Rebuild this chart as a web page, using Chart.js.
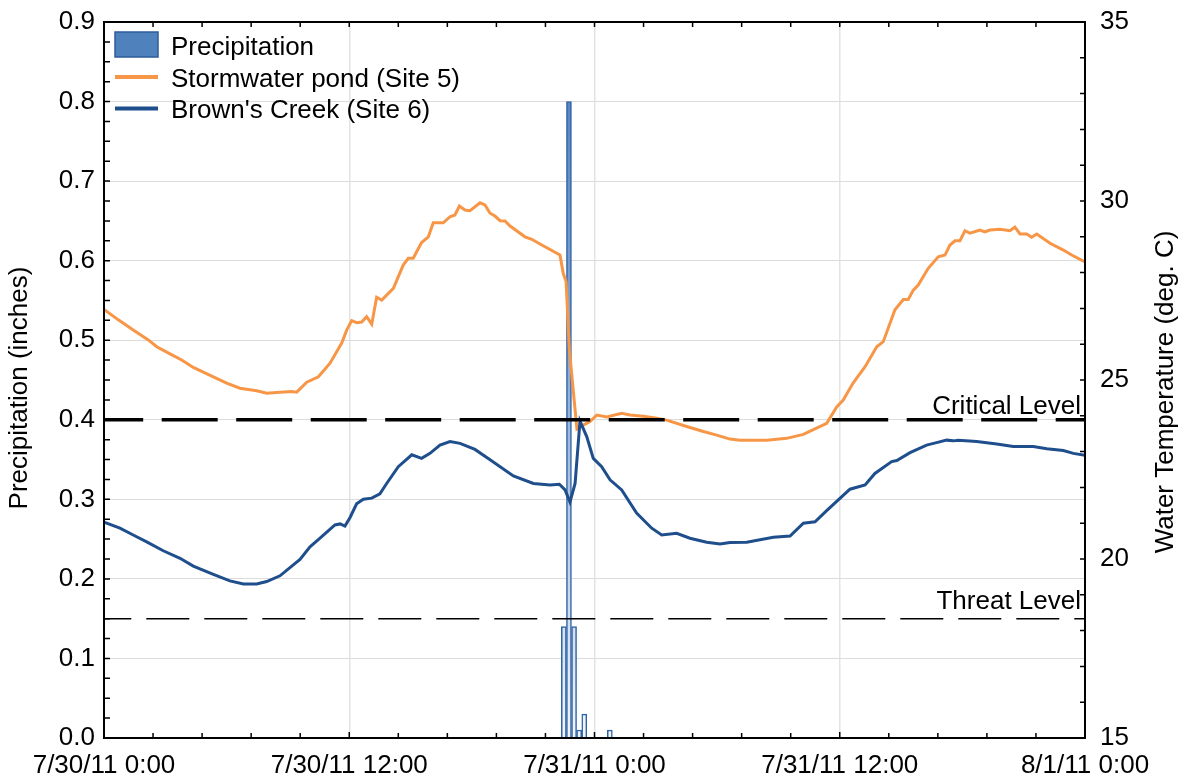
<!DOCTYPE html>
<html><head><meta charset="utf-8">
<script src="https://cdn.jsdelivr.net/npm/chart.js@4.4.0/dist/chart.umd.min.js"></script>
<style>html,body{margin:0;padding:0;background:#fff;}#wrap{width:1183px;height:782px;}</style>
</head><body><div id="wrap"><canvas id="c" width="1183" height="782"></canvas></div>
<script>
// ---------- data ----------
const xTickLabels = ['7/30/11 0:00','7/30/11 12:00','7/31/11 0:00','7/31/11 12:00','8/1/11 0:00']; // every 12 h
const seriesNames = ['Precipitation','Stormwater pond (Site 5)',"Brown's Creek (Site 6)"];
const precipHours = [22.5, 22.75, 23.0, 23.25, 23.5, 24.75];
const precipInches = [0.14, 0.80, 0.14, 0.01, 0.03, 0.01];
const pondHours = [0,0.7,1.43,2.17,2.58,3.23,3.8,4.37,5.35,6.0,6.65,7.47,7.96,8.61,9.18,9.43,9.92,10.49,11.06,11.63,11.88,12.12,12.36,12.61,12.85,13.1,13.34,13.59,14.16,14.64,14.89,15.13,15.54,15.87,16.11,16.6,16.93,17.17,17.39,17.66,17.91,18.4,18.64,18.89,19.13,19.38,19.62,19.87,20.6,20.93,21.42,22.31,22.47,22.61,22.77,22.96,23.14,23.45,23.78,24.11,24.6,25.33,25.74,26.39,27.04,27.53,28.51,29.33,29.98,30.63,31.12,32.43,33.4,34.22,35.36,35.85,36.17,36.66,37.24,37.81,38.13,38.7,39.11,39.35,39.6,39.84,40.33,40.82,41.15,41.39,41.64,41.88,42.13,42.37,42.86,43.1,43.35,43.84,44.33,44.57,44.82,45.15,45.39,45.64,46.29,46.94,47.35,48];
const pondTemp = [26.97,26.68,26.40,26.12,25.93,25.73,25.56,25.35,25.09,24.91,24.77,24.70,24.63,24.66,24.68,24.66,24.94,25.09,25.47,26.03,26.40,26.66,26.60,26.62,26.77,26.56,27.31,27.23,27.56,28.21,28.40,28.40,28.84,29.00,29.39,29.39,29.56,29.61,29.86,29.75,29.73,29.95,29.89,29.66,29.58,29.45,29.44,29.30,29.00,28.93,28.77,28.49,27.98,27.75,25.84,24.72,23.63,23.74,23.84,24.02,23.97,24.07,24.02,23.99,23.93,23.88,23.70,23.56,23.46,23.35,23.32,23.32,23.37,23.48,23.79,24.25,24.44,24.92,25.37,25.93,26.07,26.96,27.25,27.25,27.51,27.65,28.12,28.44,28.49,28.77,28.89,28.89,29.17,29.10,29.19,29.14,29.19,29.21,29.17,29.27,29.08,29.08,28.99,29.08,28.82,28.63,28.49,28.30];
const creekHours = [0,0.78,1.43,2.09,2.9,3.72,4.37,5.35,6.16,6.82,7.47,7.96,8.61,9.59,10.08,10.57,11.3,11.55,11.79,12.04,12.36,12.69,13.1,13.5,13.83,14.4,15.06,15.54,15.95,16.44,16.93,17.42,18.15,18.89,20.03,21.01,21.82,22.28,22.56,22.8,23.05,23.29,23.62,23.94,24.35,24.76,25.33,26.06,26.8,27.29,28.02,28.67,29.49,30.14,30.63,31.45,32.75,33.57,34.22,34.79,35.36,36.5,37.24,37.72,38.54,38.79,39.44,40.25,40.74,41.23,41.56,41.8,42.7,43.68,44.49,45.47,46.13,46.94,47.43,48];
const creekTemp = [21.03,20.86,20.67,20.48,20.23,20.02,19.80,19.57,19.39,19.30,19.30,19.37,19.53,19.99,20.34,20.58,20.95,20.98,20.92,21.16,21.54,21.67,21.70,21.82,22.11,22.58,22.91,22.81,22.95,23.18,23.28,23.23,23.06,22.77,22.32,22.11,22.07,22.09,21.93,21.59,22.11,23.85,23.42,22.81,22.58,22.21,21.93,21.28,20.86,20.67,20.72,20.58,20.47,20.42,20.46,20.47,20.61,20.64,21.00,21.04,21.35,21.95,22.07,22.39,22.72,22.75,22.97,23.18,23.25,23.32,23.30,23.32,23.28,23.21,23.14,23.14,23.08,23.03,22.95,22.90];
const levelNames = ['Critical Level','Threat Level'];
const levelValues = [0.4, 0.15];

// ---------- helpers ----------
const FONT = "'Liberation Sans', Arial, sans-serif";
Chart.defaults.font.family = FONT;
Chart.defaults.color = '#000';
const pairs = (xs, ys) => xs.slice(0, Math.min(xs.length, ys.length)).map((x, i) => ({x, y: ys[i]}));

function barGradient(ctx) {
  const chart = ctx.chart, a = chart.chartArea;
  if (!a) return '#4f81bd';
  const g = chart.ctx.createLinearGradient(0, a.top, 0, a.bottom);
  g.addColorStop(0, '#4a7cbc');
  g.addColorStop(0.45, '#86a8d6');
  g.addColorStop(1, '#f2f6fb');
  return g;
}
const noPad = s => { s.paddingTop = 0; s.paddingBottom = 0; s.paddingLeft = 0; s.paddingRight = 0; };

const decor = {
  id: 'decor',
  afterDraw(chart) {
    const {ctx, chartArea: a, scales} = chart;
    const x = scales.x, y = scales.y, y2 = scales.y2;
    ctx.save();
    // inward tick marks
    ctx.strokeStyle = '#000';
    ctx.lineWidth = 1.5;
    ctx.beginPath();
    for (let v = x.min; v <= x.max + 1e-6; v += 2.4) {
      const px = x.getPixelForValue(v);
      const major = Math.abs(v / 12 - Math.round(v / 12)) < 1e-6;
      const L = major ? 6 : 5;
      ctx.moveTo(px, a.bottom); ctx.lineTo(px, a.bottom - L);
      ctx.moveTo(px, a.top); ctx.lineTo(px, a.top + 5);
    }
    for (let v = y.min; v <= y.max + 1e-6; v += 0.025) {
      const py = y.getPixelForValue(v);
      ctx.moveTo(a.left, py); ctx.lineTo(a.left + 6, py);
    }
    for (let v = y2.min; v <= y2.max + 1e-6; v += 1) {
      const py = y2.getPixelForValue(v);
      ctx.moveTo(a.right, py); ctx.lineTo(a.right - 5, py);
    }
    ctx.stroke();
    // frame
    ctx.lineWidth = 2;
    ctx.strokeRect(a.left, a.top, a.right - a.left, a.bottom - a.top);

    // level labels
    ctx.font = '26px ' + FONT;
    ctx.fillStyle = '#000';
    ctx.textAlign = 'right';
    ctx.textBaseline = 'alphabetic';
    levelNames.forEach((n, i) => {
      ctx.fillText(n, a.right - 4, y.getPixelForValue(levelValues[i]) - (i === 0 ? 6 : 10));
    });

    // axis titles
    const midY = (a.top + a.bottom) / 2 + 8;
    ctx.textAlign = 'center';
    ctx.textBaseline = 'middle';
    ctx.save();
    ctx.translate(20, midY); ctx.rotate(-Math.PI / 2);
    ctx.fillText('Precipitation (inches)', 0, 0);
    ctx.restore();
    ctx.save();
    ctx.translate(1166, midY + 4); ctx.rotate(-Math.PI / 2);
    ctx.fillText('Water Temperature (deg. C)', 0, 0);
    ctx.restore();

    // legend
    const lx = a.left + 11, tx = a.left + 67;
    const base = [a.top + 33, a.top + 64.5, a.top + 96];
    ctx.textAlign = 'left';
    ctx.textBaseline = 'alphabetic';
    ctx.fillStyle = '#4f81bd';
    ctx.fillRect(lx, a.top + 10, 43, 25);
    ctx.strokeStyle = '#2c5d9a'; ctx.lineWidth = 1.5;
    ctx.strokeRect(lx, a.top + 10, 43, 25);
    ctx.lineWidth = 4;
    ctx.strokeStyle = '#f79646';
    ctx.beginPath(); ctx.moveTo(lx, a.top + 55); ctx.lineTo(lx + 43, a.top + 55); ctx.stroke();
    ctx.strokeStyle = '#1f4e8c';
    ctx.beginPath(); ctx.moveTo(lx, a.top + 86.5); ctx.lineTo(lx + 43, a.top + 86.5); ctx.stroke();
    ctx.fillStyle = '#000';
    seriesNames.forEach((n, i) => ctx.fillText(n, tx, base[i]));
    ctx.restore();
  }
};

new Chart(document.getElementById('c'), {
  type: 'line',
  data: {
    datasets: [
      { type: 'line', data: pairs([0, 48], [levelValues[0], levelValues[0]]), yAxisID: 'y',
        borderColor: '#000', borderWidth: 3.5, borderDash: [56, 18.5], borderDashOffset: 16.8,
        pointRadius: 0, order: 0 },
      { type: 'line', data: pairs([0, 48], [levelValues[1], levelValues[1]]), yAxisID: 'y',
        borderColor: '#000', borderWidth: 1.5, borderDash: [43, 15], borderDashOffset: 15.7,
        pointRadius: 0, order: 0 },
      { type: 'line', label: seriesNames[2], data: pairs(creekHours, creekTemp), yAxisID: 'y2',
        borderColor: '#1f4e8c', borderWidth: 3, pointRadius: 0, tension: 0, order: 1 },
      { type: 'line', label: seriesNames[1], data: pairs(pondHours, pondTemp), yAxisID: 'y2',
        borderColor: '#f79646', borderWidth: 3, pointRadius: 0, tension: 0, order: 2 },
      { type: 'bar', label: seriesNames[0], data: pairs(precipHours, precipInches), yAxisID: 'y',
        backgroundColor: barGradient, borderColor: '#2f63a4', borderWidth: 1.5,
        barThickness: 5, order: 10 }
    ]
  },
  options: {
    responsive: false,
    animation: false,
    devicePixelRatio: 1,
    layout: { padding: { top: 22, left: 0, right: 0, bottom: 0 } },
    plugins: { legend: { display: false }, tooltip: { enabled: false } },
    scales: {
      x: {
        type: 'linear', position: 'bottom', min: 0, max: 48, offset: false,
        ticks: { stepSize: 12, autoSkip: false, maxRotation: 0, padding: 12,
          font: { size: 26 }, color: '#000',
          callback: v => xTickLabels[Math.round(v / 12)] },
        grid: { color: '#e3e3e3', lineWidth: 1.5, drawTicks: false, offset: false },
        border: { display: false },
        afterFit: s => { s.height = 44; noPad(s); }
      },
      y: {
        position: 'left', min: 0, max: 0.9,
        ticks: { stepSize: 0.1, padding: 9, font: { size: 26 }, color: '#000',
          callback: v => v.toFixed(1) },
        grid: { color: '#dcdcdc', lineWidth: 1, drawTicks: false },
        border: { display: false },
        afterFit: s => { s.width = 104; noPad(s); }
      },
      y2: {
        position: 'right', min: 15, max: 35,
        ticks: { stepSize: 5, padding: 15, font: { size: 26 }, color: '#000' },
        grid: { drawOnChartArea: false, drawTicks: false },
        border: { display: false },
        afterFit: s => { s.width = 98; noPad(s); }
      }
    }
  },
  plugins: [decor]
});
</script>
</body></html>
